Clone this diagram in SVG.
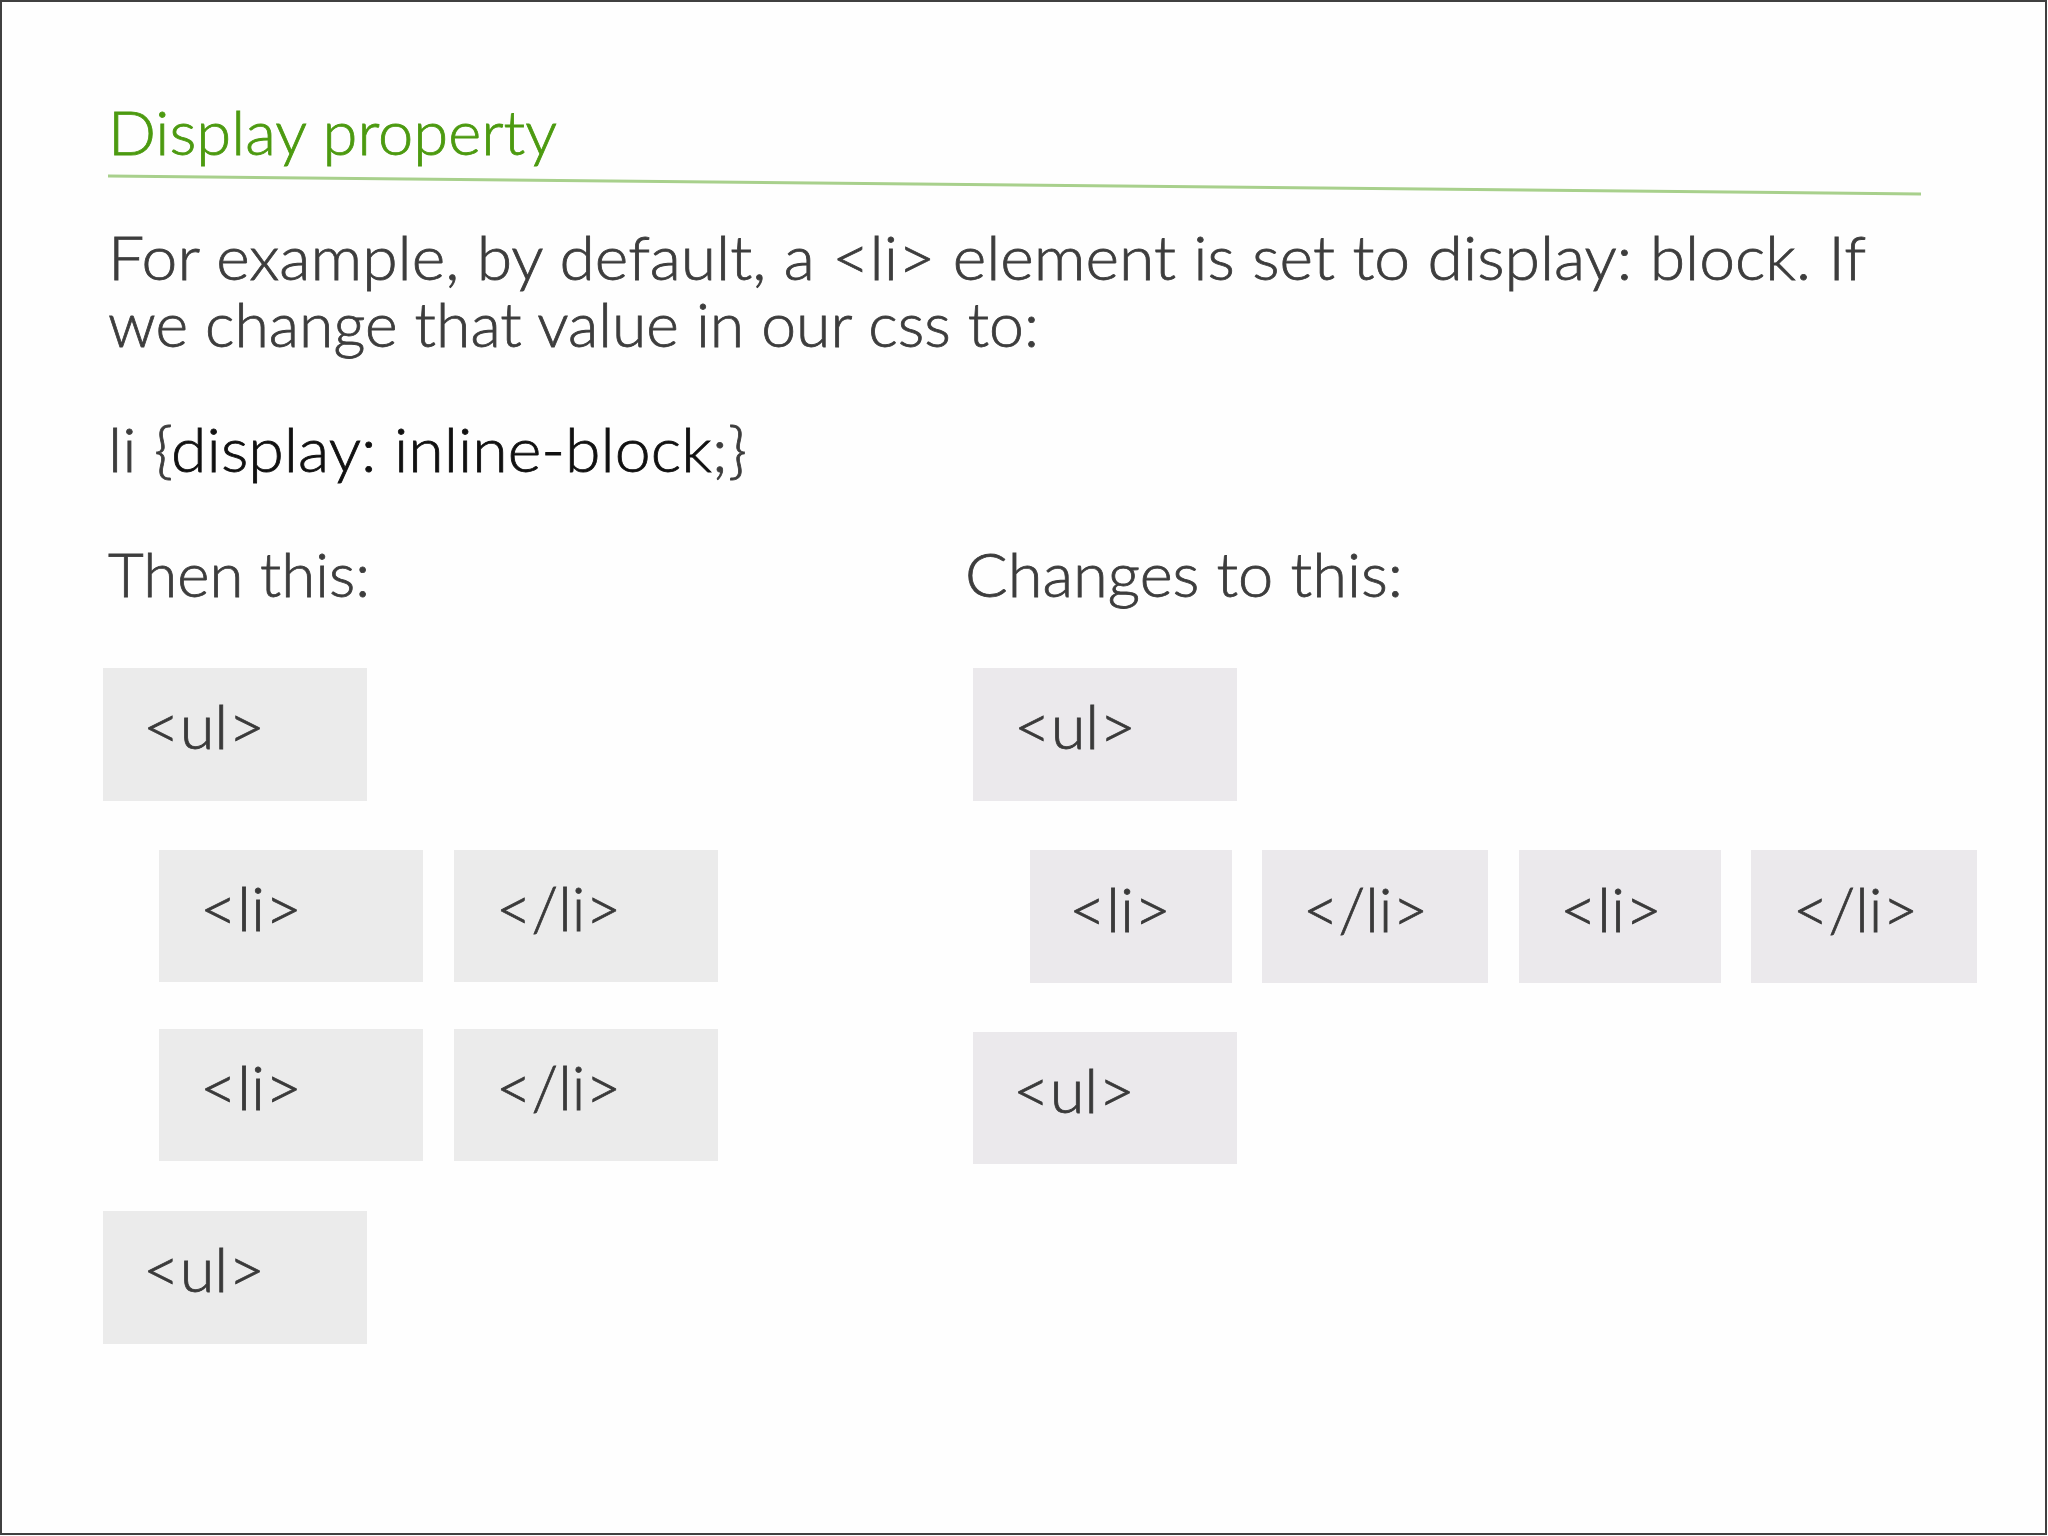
<svg xmlns="http://www.w3.org/2000/svg" width="2048" height="1536" viewBox="0 0 2048 1536">
  <style>
    .t { font-family: Lato, "Open Sans", "Liberation Sans", sans-serif; font-weight: 300; fill: #3d3d3d; stroke: #3d3d3d; stroke-width: 0.8px; }
    .title { font-family: Lato, "Open Sans", "Liberation Sans", sans-serif; font-weight: 300; font-size: 61px; fill: #4c9a10; stroke: #4c9a10; stroke-width: 0.8px; }
    .body { font-size: 61px; }
    .box { fill: #ebebeb; }
    .boxr { fill: #ebe9ec; }
    .lbl { font-family: Lato, "Open Sans", "Liberation Sans", sans-serif; font-weight: 300; font-size: 62px; fill: #3a3a3a; stroke: #3a3a3a; stroke-width: 0.8px; }
  </style>
  <rect x="0" y="0" width="2048" height="1536" fill="#fefefe"/>
  <rect x="1" y="1" width="2045" height="1533" fill="none" stroke="#404040" stroke-width="2"/>

  <g id="header">
    <text class="title" x="108" y="155" textLength="449" lengthAdjust="spacingAndGlyphs">Display property</text>
    <line x1="108" y1="176" x2="1921" y2="194" stroke="#a8d08c" stroke-width="3"/>
  </g>

  <g id="intro">
    <text class="t body" x="108" y="280" textLength="1758" lengthAdjust="spacingAndGlyphs">For example, by default, a &lt;li&gt; element is set to display: block. If</text>
    <text class="t body" x="108" y="347" textLength="931" lengthAdjust="spacingAndGlyphs">we change that value in our css to:</text>
    <text class="t body" x="108" y="472" textLength="639" lengthAdjust="spacingAndGlyphs">li {<tspan fill="#111111" stroke="#111111">display: inline-block</tspan>;}</text>
    <text class="t body" x="108" y="597" textLength="262" lengthAdjust="spacingAndGlyphs">Then this:</text>
    <text class="t body" x="965" y="597" textLength="438" lengthAdjust="spacingAndGlyphs">Changes to this:</text>
  </g>

  <g id="left-ul-open">
    <rect class="box" x="103" y="668" width="264" height="133"/>
    <text class="lbl" x="143" y="749" textLength="122" lengthAdjust="spacingAndGlyphs">&lt;ul&gt;</text>
  </g>
  <g id="left-li-open-1">
    <rect class="box" x="159" y="850" width="264" height="132"/>
    <text class="lbl" x="200" y="931" textLength="102" lengthAdjust="spacingAndGlyphs">&lt;li&gt;</text>
  </g>
  <g id="left-li-close-1">
    <rect class="box" x="454" y="850" width="264" height="132"/>
    <text class="lbl" x="496" y="931" textLength="125" lengthAdjust="spacingAndGlyphs">&lt;/li&gt;</text>
  </g>
  <g id="left-li-open-2">
    <rect class="box" x="159" y="1029" width="264" height="132"/>
    <text class="lbl" x="200" y="1110" textLength="102" lengthAdjust="spacingAndGlyphs">&lt;li&gt;</text>
  </g>
  <g id="left-li-close-2">
    <rect class="box" x="454" y="1029" width="264" height="132"/>
    <text class="lbl" x="496" y="1110" textLength="125" lengthAdjust="spacingAndGlyphs">&lt;/li&gt;</text>
  </g>
  <g id="left-ul-close">
    <rect class="box" x="103" y="1211" width="264" height="133"/>
    <text class="lbl" x="143" y="1292" textLength="122" lengthAdjust="spacingAndGlyphs">&lt;ul&gt;</text>
  </g>

  <g id="right-ul-open">
    <rect class="boxr" x="973" y="668" width="264" height="133"/>
    <text class="lbl" x="1014" y="749" textLength="122" lengthAdjust="spacingAndGlyphs">&lt;ul&gt;</text>
  </g>
  <g id="right-li-open-1">
    <rect class="boxr" x="1030" y="850" width="202" height="133"/>
    <text class="lbl" x="1069" y="932" textLength="102" lengthAdjust="spacingAndGlyphs">&lt;li&gt;</text>
  </g>
  <g id="right-li-close-1">
    <rect class="boxr" x="1262" y="850" width="226" height="133"/>
    <text class="lbl" x="1303" y="932" textLength="125" lengthAdjust="spacingAndGlyphs">&lt;/li&gt;</text>
  </g>
  <g id="right-li-open-2">
    <rect class="boxr" x="1519" y="850" width="202" height="133"/>
    <text class="lbl" x="1560" y="932" textLength="102" lengthAdjust="spacingAndGlyphs">&lt;li&gt;</text>
  </g>
  <g id="right-li-close-2">
    <rect class="boxr" x="1751" y="850" width="226" height="133"/>
    <text class="lbl" x="1793" y="932" textLength="125" lengthAdjust="spacingAndGlyphs">&lt;/li&gt;</text>
  </g>
  <g id="right-ul-close">
    <rect class="boxr" x="973" y="1032" width="264" height="132"/>
    <text class="lbl" x="1013" y="1113" textLength="122" lengthAdjust="spacingAndGlyphs">&lt;ul&gt;</text>
  </g>

  <g id="connectors"/>
</svg>
